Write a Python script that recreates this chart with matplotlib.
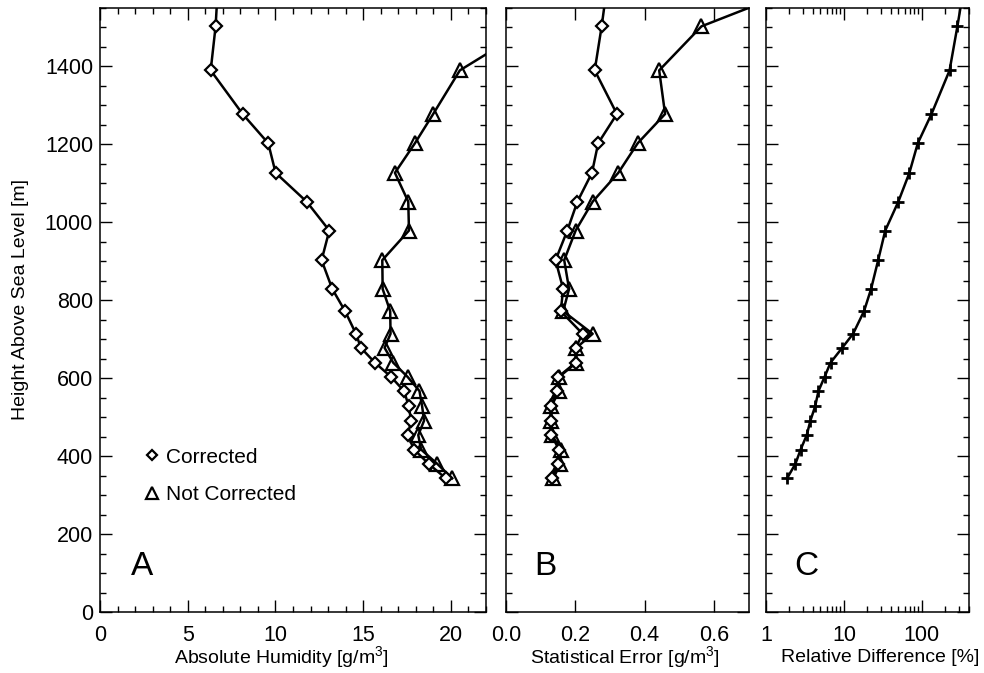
import matplotlib
matplotlib.use('Agg')
import matplotlib.pyplot as plt
from matplotlib.lines import Line2D
from matplotlib.ticker import MultipleLocator, LogLocator, FixedLocator

plt.rcParams['font.family'] = ['Liberation Sans', 'DejaVu Sans']
plt.rcParams['mathtext.fontset'] = 'custom'
plt.rcParams['mathtext.rm'] = 'Liberation Sans'
plt.rcParams['mathtext.it'] = 'Liberation Sans'

# heights above sea level [m]
height = [343, 380, 417, 454, 491, 528, 567, 603, 640, 678, 714, 772, 829,
          903, 979, 1053, 1127, 1203, 1278, 1390, 1503, 1615]

# absolute humidity [g/m3]
hum_corr = [19.71, 18.74, 17.9, 17.54, 17.73, 17.6, 17.33, 16.6, 15.67, 14.87,
            14.59, 13.97, 13.24, 12.63, 13.07, 11.78, 10.01, 9.59, 8.13, 6.31,
            6.59, 6.73]
hum_nocorr = [20.07, 19.23, 18.3, 18.14, 18.47, 18.36, 18.21, 17.54, 16.71,
              16.22, 16.56, 16.54, 16.11, 16.09, 17.61, 17.57, 16.81, 17.95,
              18.99, 20.51, 24.6, 26.5]

# statistical error [g/m3]
err_corr = [0.134, 0.150, 0.153, 0.131, 0.129, 0.129, 0.148, 0.150, 0.201,
            0.201, 0.221, 0.158, 0.165, 0.143, 0.177, 0.206, 0.248, 0.266,
            0.320, 0.256, 0.276, 0.293]
err_nocorr = [0.137, 0.156, 0.158, 0.133, 0.131, 0.131, 0.153, 0.153, 0.203,
              0.203, 0.250, 0.165, 0.182, 0.168, 0.201, 0.250, 0.324, 0.380,
              0.459, 0.442, 0.564, 0.886]

# relative difference [%]
rel_diff = [1.86, 2.38, 2.78, 3.33, 3.71, 4.27, 4.71, 5.63, 6.73, 9.5, 13.1,
            18.1, 22.3, 27.5, 33.9, 49.9, 69.2, 88.7, 133, 227, 286, 354]

fs = 14
lw = 1.8

fig = plt.figure(figsize=(9.84, 6.73), dpi=100)
bot, hgt = 0.0906, 0.8975
axA = fig.add_axes([0.1016, bot, 0.3923, hgt])
axB = fig.add_axes([0.5142, bot, 0.2466, hgt])
axC = fig.add_axes([0.7785, bot, 0.2060, hgt])

diamond = dict(marker='D', ms=6.5, mfc='white', mec='black', mew=1.6)
triangle = dict(marker='^', ms=10, mfc='none', mec='black', mew=1.6)

axA.plot(hum_nocorr, height, color='black', lw=lw, **triangle)
axA.plot(hum_corr, height, color='black', lw=lw, **diamond)
axB.plot(err_nocorr, height, color='black', lw=lw, **triangle)
axB.plot(err_corr, height, color='black', lw=lw, **diamond)
axC.plot(rel_diff, height, color='black', lw=lw, marker='+', ms=8, mew=2)
axC.set_xscale('log')

axA.set_xlim(0, 22)
axB.set_xlim(0, 0.7)
axC.set_xlim(1, 400)

for ax in (axA, axB, axC):
    ax.set_ylim(0, 1550)
    ax.yaxis.set_major_locator(MultipleLocator(200))
    ax.yaxis.set_minor_locator(MultipleLocator(50))
    ax.tick_params(which='both', direction='in', top=True, right=True,
                   labelsize=15.5, width=1)
    ax.tick_params(axis='x', pad=9)
    ax.tick_params(axis='y', pad=5)
    ax.tick_params(which='major', length=8.5)
    ax.tick_params(which='minor', length=4)
    for s in ax.spines.values():
        s.set_linewidth(1.1)

axA.xaxis.set_major_locator(MultipleLocator(5))
axA.xaxis.set_minor_locator(MultipleLocator(1))
axB.xaxis.set_major_locator(MultipleLocator(0.2))
axB.xaxis.set_minor_locator(FixedLocator([]))
axB.xaxis.set_major_formatter(lambda v, p: '%.1f' % v)
axC.xaxis.set_major_locator(FixedLocator([1, 10, 100]))
axC.xaxis.set_minor_locator(LogLocator(base=10, subs=range(2, 10)))
axC.xaxis.set_major_formatter(lambda v, p: '%d' % v)
axC.xaxis.set_minor_formatter(lambda v, p: '')
axB.set_yticklabels([])
axC.set_yticklabels([])

# axis titles placed like the original
fig.text(21 / 984, 1 - 300 / 673, 'Height Above Sea Level [m]', fontsize=fs,
         rotation=90, ha='center', va='center')
ly = 1 - 657 / 673
fig.text(281 / 984, ly, r'Absolute Humidity [g/m$^3$]', fontsize=fs,
         ha='center', va='center')
fig.text(625 / 984, ly, r'Statistical Error [g/m$^3$]', fontsize=fs,
         ha='center', va='center')
fig.text(880 / 984, ly, 'Relative Difference [%]', fontsize=fs,
         ha='center', va='center')

for ax, letter, xp in ((axA, 'A', 0.109), (axB, 'B', 0.164), (axC, 'C', 0.20)):
    ax.text(xp, 0.075, letter, transform=ax.transAxes, fontsize=24,
            ha='center', va='center')

handles = [Line2D([], [], ls='none', marker='D', ms=5.5, mfc='white',
                  mec='black', mew=1.6),
           Line2D([], [], ls='none', marker='^', ms=8, mfc='none',
                  mec='black', mew=1.6)]
axA.legend(handles, ['Corrected', 'Not Corrected'], loc='center left',
           bbox_to_anchor=(0.119, 0.225), frameon=False, fontsize=15,
           handlelength=0.6, handletextpad=0.35, labelspacing=0.9,
           borderpad=0, borderaxespad=0)

fig.savefig('out.png', dpi=100)
